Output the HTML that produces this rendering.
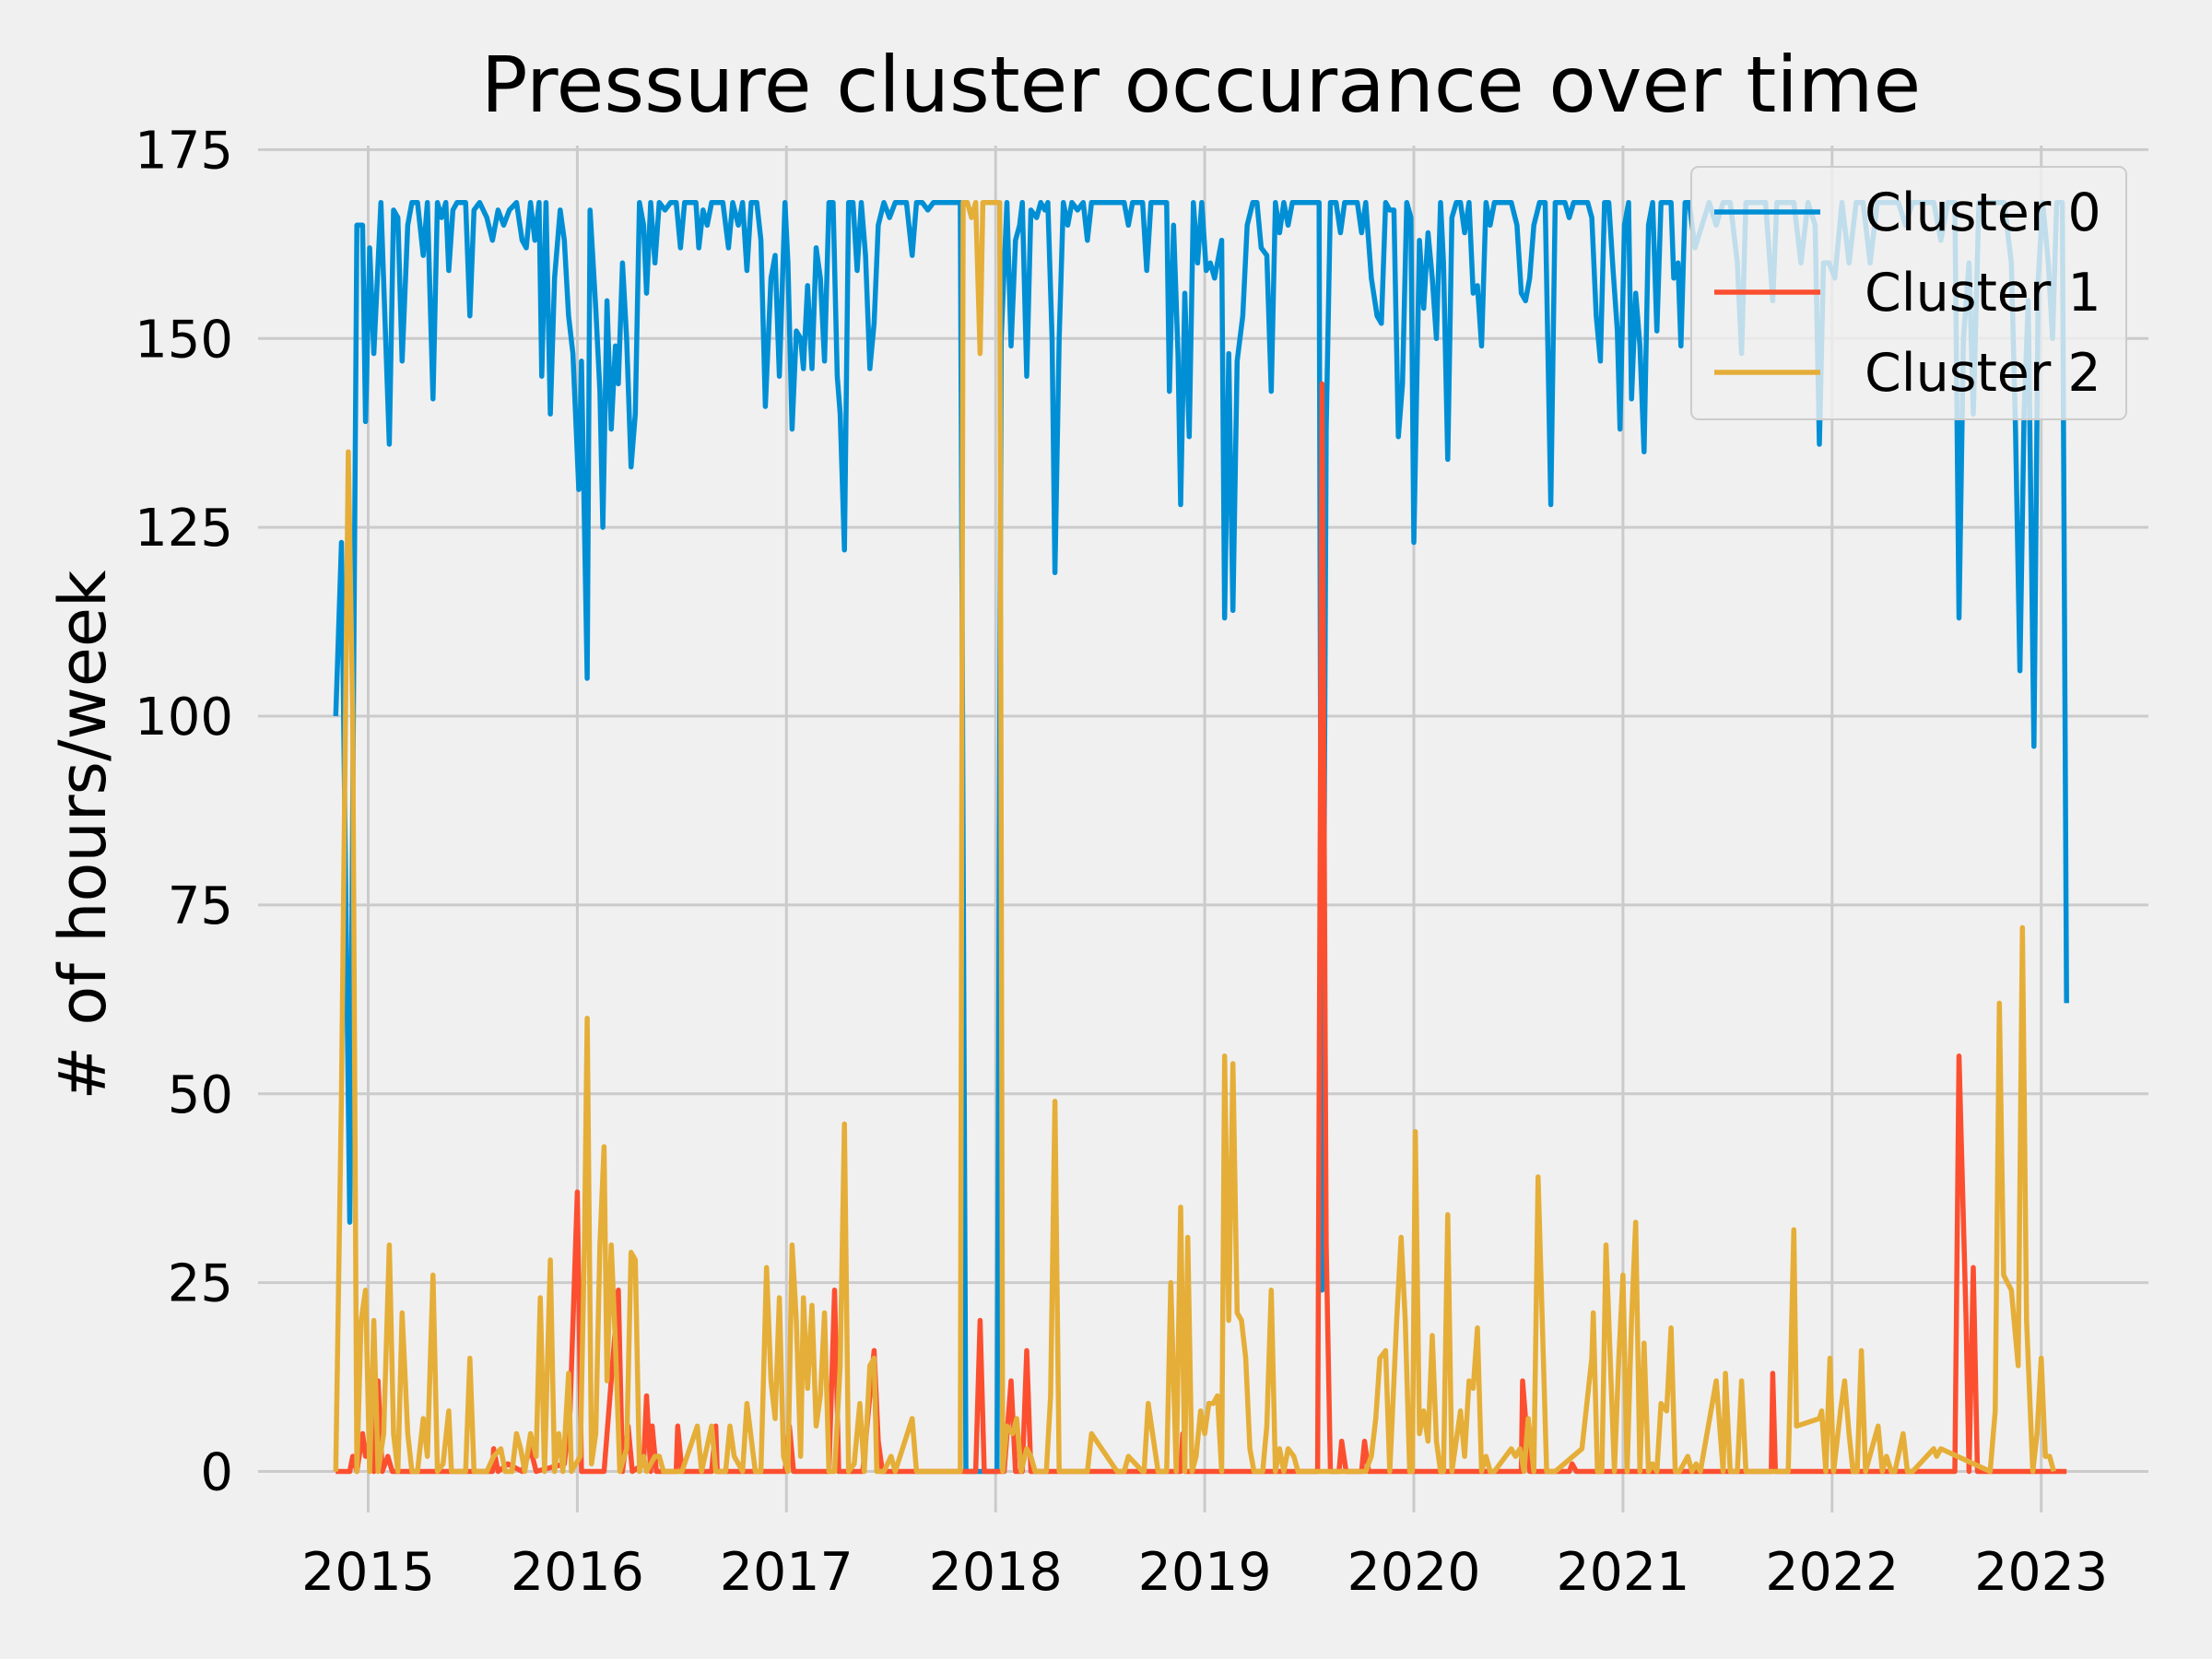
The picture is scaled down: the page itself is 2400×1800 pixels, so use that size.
<!DOCTYPE html>
<html><head><meta charset="utf-8">
<style>
html,body{margin:0;padding:0;background:#f0f0f0;}
svg{display:block;font-family:"DejaVu Sans","Liberation Sans",sans-serif;}
</style></head>
<body>
<svg id="chart" width="2400" height="1800" viewBox="0 0 2400 1800">
<rect x="0" y="0" width="2400" height="1800" fill="#f0f0f0"/>
<g id="grid"></g>
<g id="series"></g>
<g id="ticks"></g>
<text x="1303" y="121" font-size="84" text-anchor="middle" fill="#000">Pressure cluster occurance over time</text>
<text transform="translate(114,906) rotate(-90)" font-size="70" text-anchor="middle" fill="#000"># of hours/week</text>
<g id="legend"></g>
</svg>
<script>
const xTicks=[2015,2016,2017,2018,2019,2020,2021,2022,2023];
const yTicks=[0,25,50,75,100,125,150,175];
const seriesNames=["Cluster 0","Cluster 1","Cluster 2"];
const seriesColors=["#008fd5","#fc4f30","#e5ae38"];

const c0Dates=[2014.845,2014.872,2014.912,2014.946,2014.973,2014.987,2015.007,2015.027,2015.061,2015.101,2015.121,2015.142,2015.162,2015.189,2015.209,2015.236,2015.263,2015.283,2015.31,2015.331,2015.351,2015.371,2015.385,2015.405,2015.425,2015.466,2015.486,2015.506,2015.533,2015.567,2015.594,2015.621,2015.648,2015.675,2015.709,2015.736,2015.756,2015.776,2015.797,2015.817,2015.830,2015.850,2015.871,2015.891,2015.918,2015.938,2015.958,2015.979,2016.007,2016.02,2016.047,2016.061,2016.088,2016.108,2016.122,2016.142,2016.162,2016.182,2016.196,2016.216,2016.236,2016.257,2016.277,2016.297,2016.317,2016.331,2016.351,2016.371,2016.392,2016.419,2016.446,2016.473,2016.493,2016.513,2016.540,2016.567,2016.581,2016.601,2016.621,2016.642,2016.669,2016.696,2016.723,2016.743,2016.770,2016.790,2016.811,2016.831,2016.858,2016.878,2016.899,2016.926,2016.946,2016.966,2016.993,2017.007,2017.027,2017.047,2017.068,2017.081,2017.101,2017.122,2017.142,2017.162,2017.182,2017.203,2017.223,2017.243,2017.257,2017.277,2017.297,2017.318,2017.338,2017.358,2017.378,2017.399,2017.419,2017.439,2017.466,2017.493,2017.520,2017.547,2017.574,2017.601,2017.622,2017.649,2017.676,2017.703,2017.730,2017.757,2017.784,2017.811,2017.831,2017.858,2017.905,2017.973,2018.007,2018.027,2018.054,2018.074,2018.095,2018.115,2018.128,2018.149,2018.169,2018.196,2018.216,2018.236,2018.250,2018.270,2018.284,2018.304,2018.324,2018.345,2018.365,2018.392,2018.419,2018.439,2018.459,2018.486,2018.514,2018.547,2018.581,2018.615,2018.635,2018.655,2018.682,2018.703,2018.723,2018.743,2018.770,2018.797,2018.818,2018.831,2018.851,2018.872,2018.885,2018.905,2018.926,2018.946,2018.966,2018.986,2019.007,2019.027,2019.047,2019.061,2019.081,2019.095,2019.115,2019.135,2019.155,2019.182,2019.203,2019.230,2019.250,2019.270,2019.297,2019.318,2019.338,2019.358,2019.378,2019.399,2019.419,2019.446,2019.473,2019.500,2019.527,2019.547,2019.561,2019.581,2019.601,2019.628,2019.649,2019.669,2019.696,2019.730,2019.750,2019.770,2019.797,2019.824,2019.845,2019.865,2019.885,2019.905,2019.926,2019.946,2019.966,2019.986,2020.0,2020.027,2020.047,2020.068,2020.088,2020.108,2020.128,2020.142,2020.162,2020.182,2020.203,2020.223,2020.243,2020.264,2020.284,2020.304,2020.324,2020.345,2020.365,2020.385,2020.412,2020.439,2020.466,2020.493,2020.514,2020.534,2020.554,2020.574,2020.601,2020.628,2020.655,2020.676,2020.703,2020.723,2020.743,2020.764,2020.784,2020.804,2020.831,2020.851,2020.872,2020.892,2020.912,2020.932,2020.953,2020.973,2020.986,2021.007,2021.027,2021.041,2021.061,2021.081,2021.101,2021.122,2021.142,2021.162,2021.182,2021.209,2021.230,2021.243,2021.263,2021.277,2021.297,2021.317,2021.344,2021.412,2021.446,2021.479,2021.513,2021.547,2021.567,2021.588,2021.615,2021.648,2021.682,2021.716,2021.736,2021.763,2021.790,2021.817,2021.851,2021.885,2021.919,2021.939,2021.959,2021.986,2022.013,2022.047,2022.081,2022.115,2022.148,2022.182,2022.216,2022.25,2022.283,2022.317,2022.351,2022.385,2022.418,2022.452,2022.486,2022.52,2022.553,2022.587,2022.607,2022.628,2022.655,2022.675,2022.702,2022.729,2022.756,2022.79,2022.823,2022.857,2022.877,2022.898,2022.918,2022.938,2022.965,2022.986,2023.007,2023.034,2023.054,2023.074,2023.101,2023.121];
const c0Values=[100,123,33,165,165,139,162,148,168,136,167,166,147,165,168,168,161,168,142,168,166,168,159,167,168,168,153,167,168,166,163,167,165,167,168,163,162,168,163,168,145,168,140,158,167,163,153,148,130,147,105,167,154,143,125,155,138,149,144,160,150,133,140,168,165,156,168,160,168,167,168,168,162,168,168,168,162,167,165,168,168,168,162,168,165,168,159,168,168,163,141,158,161,145,168,160,138,151,150,146,157,146,162,158,147,168,168,145,140,122,168,168,159,168,161,146,152,165,168,166,168,168,168,161,168,168,167,168,168,168,168,168,168,0,0,0,0,150,168,149,163,165,168,145,167,166,168,167,168,150,119,150,168,165,168,167,168,163,168,168,168,168,168,168,165,168,168,168,159,168,168,168,168,143,165,148,128,156,137,168,160,168,159,160,158,160,163,113,148,114,147,153,165,168,168,162,161,143,168,164,168,165,168,168,168,168,168,168,24,138,168,168,164,168,168,168,164,168,158,153,152,168,167,167,137,144,168,166,123,163,154,164,158,150,168,160,134,166,168,168,164,168,156,157,149,168,165,168,168,168,168,165,156,155,158,165,168,168,128,168,168,168,166,168,168,168,168,166,153,147,168,168,159,151,138,165,168,142,156,149,135,165,168,151,168,168,168,158,160,149,168,168,162,168,165,168,168,160,148,168,168,168,168,155,168,168,168,168,160,168,165,136,160,160,158,168,160,168,168,160,168,168,168,168,165,168,168,168,168,163,168,168,113,150,160,140,168,168,168,168,168,160,138,106,140,155,96,158,168,160,150,168,168,62];

const c1Dates=[2014.845,2014.912,2014.926,2014.946,2014.973,2014.987,2015.007,2015.027,2015.047,2015.067,2015.094,2015.115,2015.594,2015.600,2015.621,2015.668,2015.736,2015.776,2015.803,2015.938,2015.965,2016.0,2016.02,2016.081,2016.128,2016.196,2016.216,2016.243,2016.263,2016.317,2016.331,2016.351,2016.358,2016.378,2016.473,2016.480,2016.5,2016.642,2016.662,2016.669,2016.993,2017.014,2017.034,2017.203,2017.230,2017.250,2017.365,2017.419,2017.439,2017.459,2017.838,2017.905,2017.926,2017.946,2018.041,2018.074,2018.095,2018.128,2018.149,2018.169,2018.885,2018.895,2018.905,2019.540,2019.561,2019.581,2019.601,2019.642,2019.655,2019.676,2019.750,2019.764,2019.784,2020.514,2020.52,2020.554,2020.743,2020.757,2020.777,2021.709,2021.716,2021.729,2022.587,2022.607,2022.641,2022.655,2022.675,2022.695,2023.121];
const c1Values=[0,0,2,0,5,2,4,0,12,0,2,0,0,3,0,1,0,3,0,1,8,37,0,0,0,24,0,6,0,1,10,0,6,0,0,6,0,0,6,0,0,6,0,0,24,0,0,16,4,0,0,0,20,0,0,12,0,0,16,0,0,5,0,0,144,30,0,0,4,0,0,4,0,0,12,0,0,1,0,0,13,0,0,55,20,0,27,0,0];

const c2Dates=[2014.845,2014.872,2014.905,2014.926,2014.946,2014.966,2014.987,2015.007,2015.027,2015.047,2015.074,2015.101,2015.121,2015.142,2015.162,2015.189,2015.209,2015.236,2015.263,2015.283,2015.31,2015.331,2015.358,2015.385,2015.398,2015.466,2015.486,2015.506,2015.567,2015.600,2015.634,2015.655,2015.688,2015.709,2015.729,2015.749,2015.776,2015.803,2015.823,2015.843,2015.871,2015.891,2015.911,2015.931,2015.958,2015.972,2016.014,2016.034,2016.047,2016.068,2016.088,2016.108,2016.128,2016.142,2016.162,2016.182,2016.203,2016.236,2016.257,2016.277,2016.297,2016.317,2016.331,2016.351,2016.371,2016.392,2016.412,2016.452,2016.473,2016.5,2016.574,2016.594,2016.642,2016.662,2016.709,2016.730,2016.750,2016.790,2016.811,2016.851,2016.878,2016.905,2016.926,2016.946,2016.966,2016.986,2017.007,2017.027,2017.047,2017.068,2017.081,2017.101,2017.122,2017.142,2017.162,2017.182,2017.203,2017.230,2017.257,2017.277,2017.297,2017.324,2017.351,2017.372,2017.399,2017.419,2017.432,2017.466,2017.500,2017.520,2017.601,2017.622,2017.703,2017.770,2017.831,2017.845,2017.865,2017.885,2017.905,2017.926,2017.939,2017.959,2017.993,2018.020,2018.034,2018.054,2018.081,2018.101,2018.122,2018.149,2018.169,2018.189,2018.243,2018.263,2018.284,2018.304,2018.345,2018.439,2018.459,2018.581,2018.615,2018.635,2018.703,2018.710,2018.730,2018.777,2018.818,2018.838,2018.864,2018.885,2018.905,2018.919,2018.939,2018.959,2018.980,2019.0,2019.020,2019.041,2019.061,2019.081,2019.095,2019.115,2019.135,2019.155,2019.176,2019.196,2019.216,2019.236,2019.277,2019.297,2019.318,2019.338,2019.358,2019.378,2019.399,2019.426,2019.446,2019.493,2019.770,2019.797,2019.818,2019.838,2019.865,2019.885,2019.918,2019.939,2019.959,2019.980,2019.993,2020.007,2020.027,2020.047,2020.068,2020.088,2020.108,2020.128,2020.142,2020.162,2020.182,2020.223,2020.243,2020.264,2020.284,2020.304,2020.324,2020.345,2020.365,2020.385,2020.466,2020.486,2020.507,2020.527,2020.547,2020.574,2020.594,2020.635,2020.655,2020.676,2020.804,2020.851,2020.858,2020.878,2020.899,2020.919,2020.959,2020.980,2021.0,2021.020,2021.041,2021.061,2021.081,2021.101,2021.122,2021.142,2021.162,2021.182,2021.209,2021.230,2021.25,2021.27,2021.29,2021.31,2021.33,2021.35,2021.37,2021.446,2021.479,2021.49,2021.513,2021.547,2021.567,2021.588,2021.790,2021.817,2021.83,2021.939,2021.95,2021.97,2021.99,2022.007,2022.02,2022.04,2022.06,2022.081,2022.10,2022.12,2022.14,2022.16,2022.22,2022.24,2022.26,2022.283,2022.30,2022.34,2022.36,2022.385,2022.486,2022.50,2022.52,2022.756,2022.78,2022.80,2022.82,2022.857,2022.89,2022.91,2022.93,2022.96,2022.98,2023.00,2023.02,2023.04,2023.06,2023.08,2023.101,2023.121];
const c2Values=[0,50,135,100,0,20,24,0,20,0,5,30,5,0,21,5,0,0,7,2,26,0,1,8,0,0,15,0,0,2,3,0,0,5,3,0,5,2,23,0,28,0,5,0,13,0,2,30,60,1,5,30,43,12,30,17,0,3,29,28,0,2,0,1,2,2,0,0,0,0,6,0,6,0,0,6,2,0,9,0,0,27,12,7,23,2,0,30,20,2,23,11,22,6,10,21,0,0,14,46,0,1,9,0,14,15,0,0,2,0,7,0,0,0,0,168,168,166,168,148,168,168,168,168,0,6,5,7,0,3,2,0,0,10,49,0,0,0,5,0,0,2,0,0,9,0,0,25,0,35,0,31,0,2,8,5,9,9,10,0,55,20,54,21,20,15,3,0,0,6,24,0,3,0,3,2,0,0,0,2,7,15,16,0,20,31,20,0,0,45,5,8,4,18,4,0,0,34,0,8,2,12,11,19,0,2,0,0,3,2,3,0,7,0,39,0,0,0,3,15,21,0,0,30,0,15,26,0,20,33,0,17,0,1,0,9,8,19,0,0,1,2,0,1,0,12,0,13,0,0,12,0,0,32,6,7,8,0,15,0,3,8,12,5,0,0,16,0,6,0,2,0,0,5,0,0,3,2,3,0,8,62,26,24,14,72,20,0,5,15,2,2,0];

const PL=280, PR=2331, PT=158, PB=1641;
function xScale(yr){return 399.5+(yr-2015)*226.9;}
function yScale(v){return 1596.5-v*8.195;}
const NS='http://www.w3.org/2000/svg';
function mk(tag,attrs,parent){const e=document.createElementNS(NS,tag);for(const k in attrs)e.setAttribute(k,attrs[k]);parent.appendChild(e);return e;}

const grid=document.getElementById('grid');
const ticks=document.getElementById('ticks');
yTicks.forEach(t=>{
  const y=yScale(t);
  const l=mk('line',{x1:PL,x2:PR,y1:y,y2:y,stroke:'#cbcbcb','stroke-width':3},grid);
  
  
  const tx=mk('text',{x:253,y:y+20,'font-size':56,'text-anchor':'end',fill:'#000'},ticks);
  tx.textContent=String(t);
  
  
});
xTicks.forEach(t=>{
  const x=xScale(t);
  const l=mk('line',{x1:x,x2:x,y1:PT,y2:PB,stroke:'#cbcbcb','stroke-width':3},grid);
  
  
  const tx=mk('text',{x:x,y:1725,'font-size':57,'text-anchor':'middle',fill:'#000'},ticks);
  tx.textContent=String(t);
  
  
});

const series=document.getElementById('series');
const allDates=[c0Dates,c1Dates,c2Dates];
const allValues=[c0Values,c1Values,c2Values];
allDates.forEach((ds,i)=>{
  const vs=allValues[i];
  const pts=ds.map((d,j)=>xScale(d).toFixed(1)+','+yScale(vs[j]).toFixed(1)).join(' ');
  const p=mk('polyline',{points:pts,fill:'none',stroke:seriesColors[i],'stroke-width':5.5,'stroke-linejoin':'round'},series);
  
  
});

const legend=document.getElementById('legend');
const box=mk('rect',{x:1835,y:181,width:472,height:274,rx:8,fill:'#f0f0f0','fill-opacity':0.8,stroke:'#cccccc','stroke-width':2},legend);


seriesNames.forEach((n,i)=>{
  const y=230+i*87;
  const ln=mk('line',{x1:1860,x2:1975,y1:y,y2:y,stroke:seriesColors[i],'stroke-width':5.5},legend);
  
  
  const tx=mk('text',{x:2023,y:y+20,'font-size':57,fill:'#000'},legend);
  tx.textContent=n;
  
  
});
</script>
</body></html>
